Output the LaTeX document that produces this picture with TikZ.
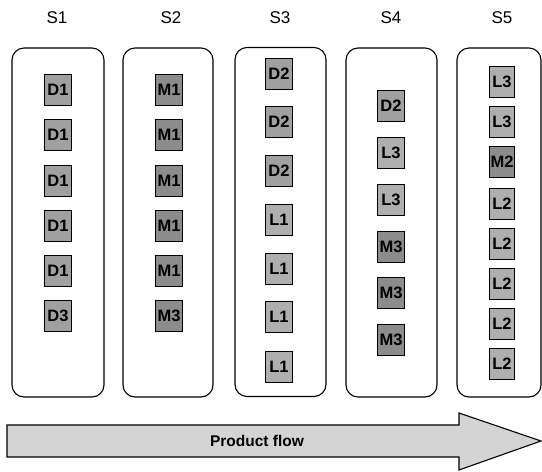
\documentclass[tikz,border=0pt]{standalone}
\usepackage{fontspec}
\setmainfont{Liberation Sans}
\usepackage{xcolor}
\definecolor{dgray}{RGB}{160,160,160}
\definecolor{mgray}{RGB}{140,140,140}
\definecolor{lgray}{RGB}{175,175,175}
\definecolor{flowgray}{RGB}{212,212,212}

\begin{document}
\begin{tikzpicture}[x=1pt, y=-1pt,
    cell/.style={draw=black, rounded corners=12pt, line width=1.1pt,
                 minimum width=91pt, minimum height=349pt, inner sep=0pt},
    part/.style={draw=black, line width=1.5pt, inner sep=0pt,
                 minimum width=27pt, minimum height=31pt,
                 font=\fontsize{16.5}{16.5}\selectfont\bfseries},
    dpart/.style={part, fill=dgray},
    mpart/.style={part, fill=mgray},
    lpart/.style={part, fill=lgray},
    title/.style={font=\fontsize{17}{17}\selectfont},
    flow/.style={draw=black, line width=1.1pt, fill=flowgray}
]
\useasboundingbox (0,0) rectangle (542,472);

% stations
\node[title] (t1) at (57,18) {S1};
\node[title] (t2) at (171,18) {S2};
\node[title] (t3) at (280,18) {S3};
\node[title] (t4) at (391,18) {S4};
\node[title] (t5) at (502,18) {S5};

\node[cell, minimum width=92pt] (c1) at (58,222.5) {};
\node[cell, minimum width=90pt] (c2) at (168,222.5) {};
\node[cell] (c3) at (280.5,222) {};
\node[cell] (c4) at (391.5,222.5) {};
\node[cell, minimum width=84pt] (c5) at (499,222.5) {};

% S1
\node[dpart] (s1a) at (58,90) {D1};
\node[dpart] (s1b) at (58,135) {D1};
\node[dpart] (s1c) at (58,181) {D1};
\node[dpart] (s1d) at (58,226) {D1};
\node[dpart] (s1e) at (58,271) {D1};
\node[dpart] (s1f) at (58,316) {D3};

% S2
\node[mpart] (s2a) at (169,90) {M1};
\node[mpart] (s2b) at (169,135) {M1};
\node[mpart] (s2c) at (169,181) {M1};
\node[mpart] (s2d) at (169,226) {M1};
\node[mpart] (s2e) at (169,271) {M1};
\node[mpart] (s2f) at (169,316) {M3};

% S3
\node[dpart] (s3a) at (279,74) {D2};
\node[dpart] (s3b) at (279,122) {D2};
\node[dpart] (s3c) at (279,171) {D2};
\node[lpart] (s3d) at (279,220) {L1};
\node[lpart] (s3e) at (279,269) {L1};
\node[lpart] (s3f) at (279,317) {L1};
\node[lpart] (s3g) at (279,367) {L1};

% S4
\node[dpart] (s4a) at (391,106) {D2};
\node[lpart] (s4b) at (391,153) {L3};
\node[lpart] (s4c) at (391,200) {L3};
\node[mpart] (s4d) at (391,247) {M3};
\node[mpart] (s4e) at (391,293) {M3};
\node[mpart] (s4f) at (391,340) {M3};

% S5
\node[lpart, minimum width=25pt] (s5a) at (502,82) {L3};
\node[lpart, minimum width=25pt] (s5b) at (502,122) {L3};
\node[mpart, minimum width=25pt] (s5c) at (502,162) {M2};
\node[lpart, minimum width=25pt] (s5d) at (502,204) {L2};
\node[lpart, minimum width=25pt] (s5e) at (502,244) {L2};
\node[lpart, minimum width=25pt] (s5f) at (502,284) {L2};
\node[lpart, minimum width=25pt] (s5g) at (502,324) {L2};
\node[lpart, minimum width=25pt] (s5h) at (502,364) {L2};

% flow arrow
\draw[flow] (7,425) -- (459,425) -- (459,413) -- (541,441)
    -- (459,470) -- (459,457) -- (7,457) -- cycle;
\node[font=\fontsize{15.5}{15.5}\selectfont\bfseries] (pf) at (257,441) {Product flow};
\end{tikzpicture}
\end{document}
